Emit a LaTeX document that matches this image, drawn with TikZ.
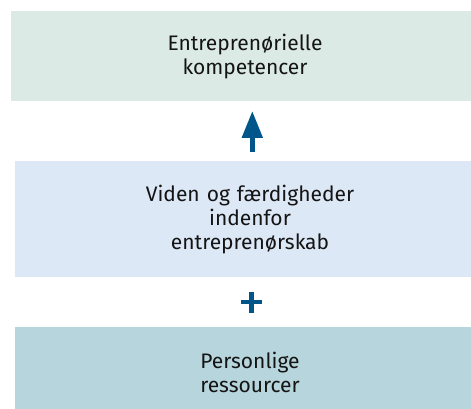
\documentclass[tikz,border=0pt]{standalone}
\usepackage{fontspec}
\setmainfont{Fira Sans}
\usetikzlibrary{arrows.meta}
\definecolor{topbox}{HTML}{DCEAE6}
\definecolor{midbox}{HTML}{DDE8F6}
\definecolor{botbox}{HTML}{B7D5DC}
\definecolor{accent}{HTML}{00568A}
\definecolor{txt}{HTML}{141414}
\begin{document}
\begin{tikzpicture}[x=1pt,y=-1pt,
  box/.style={draw=none,inner sep=0pt,rectangle},
  label/.style={text width=320pt,align=center,anchor=base,text=txt,
    font=\fontsize{21}{24}\selectfont,inner sep=0pt},
  arr/.style={draw=accent,line width=5pt,-{Triangle[width=20pt,length=27pt]}},
  plusbar/.style={draw=accent,line width=4.5pt}]
\useasboundingbox (0,0) rectangle (471,409);
\fill[topbox] (11,11) rectangle (471,100.7);
\fill[midbox] (15,161) rectangle (471,277.3);
\fill[botbox] (15,326.7) rectangle (471,409);
\node[box] (top) at (241,55.8) {};
\node[box] (mid) at (243,219) {};
\node[box] (bot) at (243,368) {};
\node[label] (toplabel) at (245,51) {Entreprenørielle\\kompetencer};
\node[label] (midlabel) at (250,201.7) {Viden og færdigheder\\indenfor\\entreprenørskab};
\node[label] (botlabel) at (250,368) {Personlige\\ressourcer};
\coordinate (arrS) at (252.3,151.7);
\coordinate (arrE) at (252.3,111);
\draw[arr] (arrS) -- (arrE);
\coordinate (plusC) at (251.5,302.2);
\draw[plusbar] ([xshift=-10.5pt]plusC) -- ([xshift=10.5pt]plusC);
\draw[plusbar] ([yshift=-10.5pt]plusC) -- ([yshift=10.5pt]plusC);
\end{tikzpicture}
\end{document}
